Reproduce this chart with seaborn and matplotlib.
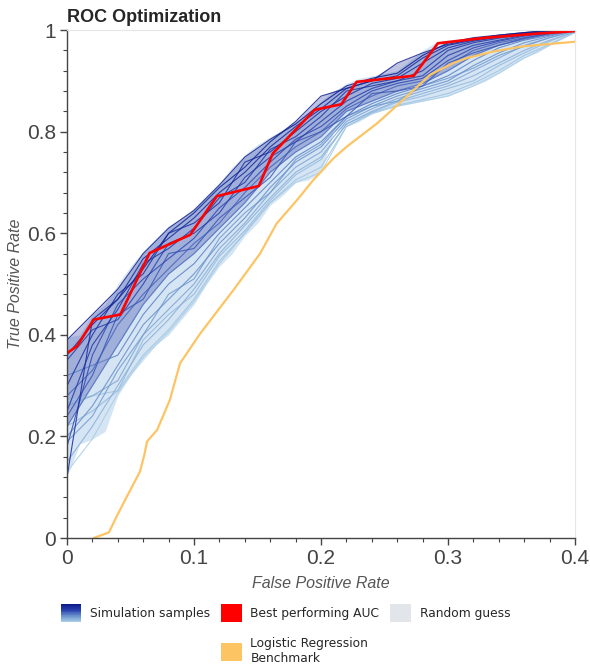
import numpy as np
import pandas as pd
import matplotlib
import matplotlib.pyplot as plt
import seaborn as sns
from matplotlib.colors import LinearSegmentedColormap
from matplotlib.patches import Rectangle
from matplotlib.legend_handler import HandlerBase
from matplotlib.ticker import MultipleLocator, FuncFormatter

# === DATA ===
# false positive rate grid used by the simulation sample curves
fpr_grid = [0.00, 0.02, 0.04, 0.06, 0.08, 0.10, 0.12, 0.14, 0.16, 0.18, 0.20,
            0.22, 0.24, 0.26, 0.28, 0.30, 0.32, 0.34, 0.36, 0.38, 0.40]

# simulation samples (true positive rate on fpr_grid)
sample_01 = [0.39, 0.44, 0.49, 0.56, 0.61, 0.645, 0.695, 0.75, 0.785, 0.815, 0.855, 0.89, 0.905, 0.915, 0.95, 0.975, 0.985, 0.99, 0.995, 1.0, 1.0]
sample_02 = [0.36, 0.42, 0.47, 0.53, 0.60, 0.64, 0.69, 0.73, 0.78, 0.82, 0.87, 0.885, 0.90, 0.935, 0.955, 0.972, 0.982, 0.99, 0.995, 0.999, 1.0]
sample_03 = [0.12, 0.43, 0.47, 0.55, 0.59, 0.63, 0.68, 0.72, 0.77, 0.81, 0.845, 0.885, 0.90, 0.91, 0.945, 0.97, 0.98, 0.988, 0.994, 0.998, 1.0]
sample_04 = [0.30, 0.40, 0.48, 0.52, 0.60, 0.62, 0.66, 0.74, 0.76, 0.80, 0.84, 0.87, 0.895, 0.905, 0.935, 0.965, 0.978, 0.986, 0.993, 0.998, 1.0]
sample_05 = [0.25, 0.38, 0.45, 0.54, 0.57, 0.61, 0.67, 0.70, 0.765, 0.79, 0.83, 0.88, 0.89, 0.90, 0.92, 0.96, 0.975, 0.984, 0.992, 0.997, 1.0]
sample_06 = [0.35, 0.41, 0.43, 0.50, 0.58, 0.60, 0.64, 0.71, 0.75, 0.78, 0.82, 0.86, 0.885, 0.90, 0.91, 0.95, 0.97, 0.98, 0.99, 0.996, 1.0]
sample_07 = [0.18, 0.36, 0.46, 0.51, 0.55, 0.59, 0.65, 0.69, 0.74, 0.785, 0.81, 0.85, 0.88, 0.895, 0.905, 0.94, 0.965, 0.978, 0.988, 0.995, 1.0]
sample_08 = [0.24, 0.32, 0.44, 0.47, 0.56, 0.57, 0.63, 0.67, 0.71, 0.78, 0.80, 0.83, 0.875, 0.88, 0.89, 0.935, 0.955, 0.97, 0.984, 0.993, 1.0]
sample_09 = [0.28, 0.33, 0.42, 0.48, 0.53, 0.58, 0.62, 0.68, 0.73, 0.77, 0.80, 0.845, 0.87, 0.89, 0.90, 0.93, 0.96, 0.975, 0.985, 0.994, 1.0]
sample_10 = [0.22, 0.30, 0.38, 0.46, 0.52, 0.56, 0.61, 0.66, 0.72, 0.76, 0.79, 0.84, 0.86, 0.88, 0.895, 0.92, 0.95, 0.97, 0.982, 0.992, 1.0]
sample_11 = [0.32, 0.34, 0.36, 0.44, 0.50, 0.54, 0.60, 0.65, 0.70, 0.75, 0.78, 0.83, 0.855, 0.875, 0.89, 0.91, 0.94, 0.965, 0.98, 0.99, 1.0]
sample_12 = [0.20, 0.26, 0.34, 0.42, 0.47, 0.52, 0.58, 0.63, 0.69, 0.74, 0.77, 0.825, 0.85, 0.87, 0.885, 0.90, 0.93, 0.955, 0.975, 0.988, 1.0]
sample_13 = [0.19, 0.24, 0.33, 0.40, 0.48, 0.51, 0.59, 0.64, 0.68, 0.745, 0.775, 0.83, 0.85, 0.86, 0.89, 0.905, 0.925, 0.95, 0.968, 0.985, 0.999]
sample_14 = [0.26, 0.28, 0.31, 0.40, 0.45, 0.50, 0.57, 0.62, 0.68, 0.73, 0.76, 0.82, 0.845, 0.865, 0.88, 0.895, 0.92, 0.945, 0.97, 0.985, 0.998]
sample_15 = [0.15, 0.22, 0.30, 0.38, 0.43, 0.49, 0.56, 0.615, 0.67, 0.72, 0.75, 0.815, 0.84, 0.86, 0.875, 0.89, 0.91, 0.935, 0.96, 0.98, 0.997]
sample_16 = [0.22, 0.25, 0.29, 0.39, 0.44, 0.48, 0.555, 0.605, 0.665, 0.715, 0.745, 0.815, 0.838, 0.858, 0.87, 0.885, 0.90, 0.93, 0.955, 0.978, 0.997]
sample_17 = [0.27, 0.28, 0.29, 0.36, 0.41, 0.47, 0.545, 0.60, 0.66, 0.705, 0.73, 0.81, 0.837, 0.852, 0.863, 0.875, 0.895, 0.92, 0.95, 0.972, 0.996]
sample_18 = [0.13, 0.195, 0.285, 0.355, 0.405, 0.465, 0.54, 0.60, 0.66, 0.70, 0.72, 0.81, 0.835, 0.85, 0.86, 0.87, 0.89, 0.915, 0.945, 0.97, 0.995]
# best (dark) to worst (light)
samples = [sample_01, sample_02, sample_03, sample_04, sample_05, sample_06,
           sample_07, sample_08, sample_09, sample_10, sample_11, sample_12,
           sample_13, sample_14, sample_15, sample_16, sample_17, sample_18]

# envelope of all simulation samples (finer grid)
env_fpr = [0.00, 0.01, 0.02, 0.03, 0.04, 0.05, 0.06, 0.07, 0.08, 0.09, 0.10,
           0.11, 0.12, 0.13, 0.14, 0.15, 0.16, 0.17, 0.18, 0.19, 0.20,
           0.21, 0.22, 0.23, 0.24, 0.25, 0.26, 0.27, 0.28, 0.29, 0.30,
           0.31, 0.32, 0.33, 0.34, 0.35, 0.36, 0.37, 0.38, 0.39, 0.40]
env_low = [0.12, 0.185, 0.195, 0.21, 0.28, 0.32, 0.35, 0.38, 0.40, 0.43, 0.46,
           0.50, 0.535, 0.56, 0.595, 0.62, 0.655, 0.675, 0.70, 0.705, 0.72,
           0.80, 0.81, 0.82, 0.835, 0.845, 0.85, 0.855, 0.86, 0.865, 0.87,
           0.88, 0.89, 0.90, 0.915, 0.93, 0.945, 0.955, 0.97, 0.985, 0.995]
env_high = [0.395, 0.40, 0.44, 0.46, 0.50, 0.535, 0.565, 0.59, 0.615, 0.63, 0.65,
            0.675, 0.70, 0.73, 0.755, 0.775, 0.79, 0.805, 0.82, 0.835, 0.86,
            0.88, 0.895, 0.905, 0.91, 0.915, 0.92, 0.94, 0.96, 0.975, 0.98,
            0.983, 0.986, 0.99, 0.992, 0.995, 0.997, 0.998, 1.0, 1.0, 1.0]

# best performing AUC
best_fpr = [0, 0.008, 0.021, 0.042, 0.065, 0.097, 0.118, 0.151, 0.162, 0.195, 0.216,
            0.228, 0.273, 0.292, 0.33, 0.37, 0.40]
best_tpr = [0.364, 0.378, 0.430, 0.440, 0.561, 0.597, 0.673, 0.693, 0.757, 0.843, 0.854,
            0.898, 0.910, 0.974, 0.985, 0.993, 0.998]

# logistic regression benchmark
lr_fpr = [0.021, 0.033, 0.039, 0.047, 0.0575, 0.061, 0.063, 0.071, 0.081, 0.089, 0.105,
          0.131, 0.152, 0.165, 0.181, 0.194, 0.210, 0.220, 0.244, 0.260, 0.286, 0.304,
          0.315, 0.336, 0.359, 0.40]
lr_tpr = [0.0, 0.011, 0.042, 0.081, 0.131, 0.165, 0.19, 0.213, 0.272, 0.344, 0.403,
          0.488, 0.560, 0.619, 0.665, 0.705, 0.748, 0.770, 0.816, 0.852, 0.912, 0.935,
          0.945, 0.958, 0.968, 0.977]

# === STYLE ===
sns.set_style("white")
plt.rcParams["font.family"] = ["Liberation Sans", "DejaVu Sans"]

sample_cmap = LinearSegmentedColormap.from_list("sim", ["#0f1c8e", "#2a42ad", "#6a93cd", "#a9cde6"])
n_s = len(samples)
palette = {i: sample_cmap(i / (n_s - 1)) for i in range(n_s)}

df = pd.DataFrame({
    "fpr": np.tile(fpr_grid, n_s),
    "tpr": np.concatenate(samples),
    "sample": np.repeat(np.arange(n_s), len(fpr_grid)),
})

fig = plt.figure(figsize=(5.9, 6.68), dpi=100)
ax = fig.add_axes([0.1136, 0.1946, 0.861, 0.7604])

# band of simulation samples
ax.fill_between(env_fpr, env_low, env_high, color="#b9d4ec", alpha=0.6, lw=0)
ax.fill_between(fpr_grid, sample_10, [max(a, b) for a, b in zip(sample_01, sample_02)],
                color="#1a2a9a", alpha=0.28, lw=0)
# light samples first so the dark ones end up on top
sns.lineplot(data=df, x="fpr", y="tpr", hue="sample", hue_order=list(range(n_s))[::-1],
             palette=palette, estimator=None, sort=False, lw=0.8, alpha=0.85,
             legend=False, ax=ax)

sns.lineplot(x=lr_fpr, y=lr_tpr, color="#fdc464", lw=1.6, estimator=None, sort=False, ax=ax)
sns.lineplot(x=best_fpr, y=best_tpr, color="#ff0000", lw=1.9, estimator=None, sort=False, ax=ax)

# === AXES ===
ax.set_xlim(0, 0.4)
ax.set_ylim(0, 1)
ax.xaxis.set_major_locator(MultipleLocator(0.1))
ax.xaxis.set_minor_locator(MultipleLocator(0.02))
ax.yaxis.set_major_locator(MultipleLocator(0.2))
ax.yaxis.set_minor_locator(MultipleLocator(0.04))
fmt = FuncFormatter(lambda v, p: f"{v:g}")
ax.xaxis.set_major_formatter(fmt)
ax.yaxis.set_major_formatter(fmt)
ax.tick_params(which="major", direction="out", length=5, width=1, color="#444444",
               labelsize=15, labelcolor="#444444", left=True, bottom=True, pad=3)
ax.tick_params(which="minor", direction="out", length=3, width=0.8, color="#444444",
               left=True, bottom=True)
for side in ["left", "bottom"]:
    ax.spines[side].set_color("#444444")
    ax.spines[side].set_linewidth(1)
for side in ["top", "right"]:
    ax.spines[side].set_color("#e6e6e6")
    ax.spines[side].set_linewidth(0.8)

ax.set_xlabel("False Positive Rate", fontsize=11.5, style="italic", color="#555555", labelpad=6)
ax.set_ylabel("True Positive Rate", fontsize=11.5, style="italic", color="#555555", labelpad=3)
ax.set_title("ROC Optimization", loc="left", fontsize=13, fontweight="bold", pad=6)


# === LEGEND ===
class GradientHandler(HandlerBase):
    def create_artists(self, legend, orig_handle, xdescent, ydescent, width, height, fontsize, trans):
        n = 24
        arts = []
        for i in range(n):
            r = Rectangle((-xdescent, -ydescent + height * (1 - (i + 1) / n)), width, height / n,
                          facecolor=sample_cmap(i / (n - 1)), edgecolor="none", transform=trans)
            arts.append(r)
        return arts


sim_handle = Rectangle((0, 0), 1, 1)
best_handle = Rectangle((0, 0), 1, 1, facecolor="#ff0000", edgecolor="none")
rand_handle = Rectangle((0, 0), 1, 1, facecolor="#e2e6ea", edgecolor="none")
lr_handle = Rectangle((0, 0), 1, 1, facecolor="#fdc464", edgecolor="none")
blank = Rectangle((0, 0), 1, 1, alpha=0)

leg = ax.legend([sim_handle, blank, best_handle, lr_handle, rand_handle, blank],
                ["Simulation samples", "", "Best performing AUC", "Logistic Regression\nBenchmark",
                 "Random guess", ""],
                handler_map={sim_handle: GradientHandler()},
                ncol=3, loc="upper center", bbox_to_anchor=(0.43, -0.118), frameon=False,
                prop={"family": "DejaVu Sans", "size": 8.8},
                handlelength=1.7, handleheight=1.9, handletextpad=0.7,
                columnspacing=0.9, labelspacing=1.2, borderpad=0)

fig.savefig("out.png", dpi=100)
